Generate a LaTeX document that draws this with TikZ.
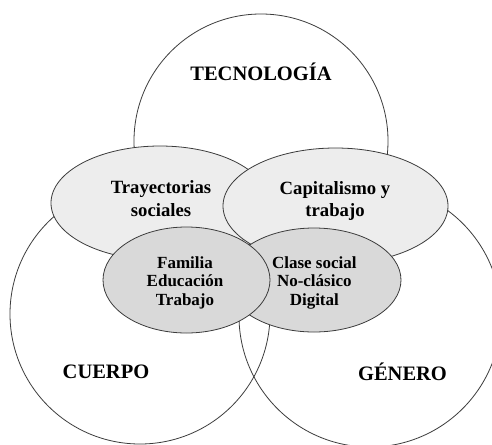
\documentclass[tikz,border=0pt]{standalone}
\usepackage{fontspec}
\setmainfont{Liberation Serif}
\usetikzlibrary{shapes.geometric}
\definecolor{edge}{HTML}{3C3C3C}
\definecolor{midfill}{HTML}{EDEDED}
\definecolor{innerfill}{HTML}{D9D9D9}
\newcommand{\bigfont}{\fontsize{20.5}{24}\selectfont\bfseries}
\newcommand{\midfont}{\fontsize{18.7}{22.8}\selectfont\bfseries}
\newcommand{\smallfont}{\fontsize{17}{18.4}\selectfont\bfseries}
\begin{document}
\begin{tikzpicture}[x=1pt,y=-1pt,
  bigcircle/.style={circle, draw=edge, line width=0.8pt, inner sep=0pt, minimum size=#1},
  midell/.style={ellipse, draw=edge, fill=midfill, line width=0.8pt, inner sep=0pt},
  innerell/.style={ellipse, draw=edge, fill=innerfill, line width=0.8pt, inner sep=0pt},
  biglabel/.style={anchor=base, inner sep=0pt, font=\bigfont},
  midlabel/.style={anchor=base, inner sep=0pt, font=\midfont},
  smalllabel/.style={anchor=base, inner sep=0pt, font=\smallfont}]
\useasboundingbox (0,0) rectangle (492,444);
\clip (0,0) rectangle (492,444);
\fill[white] (0,0) rectangle (492,444);
% big circles
\node[bigcircle=254pt] (tec) at (261,141) {};
\node[bigcircle=260pt] (cue) at (140,314) {};
\node[bigcircle=262pt] (gen) at (370,316) {};
% middle ellipses
\node[midell, minimum width=218pt, minimum height=114pt] (tray) at (160,203) {};
\node[midell, minimum width=225pt, minimum height=116pt] (cap) at (335.5,206) {};
% inner ellipses
\node[innerell, minimum width=174pt, minimum height=104pt] (clase) at (314,280) {};
\node[innerell, minimum width=167pt, minimum height=106pt] (fam) at (186.5,280) {};
% labels
\node[biglabel] (tecT) at (261,81) {TECNOLOGÍA};
\node[biglabel] (cueT) at (106,378) {CUERPO};
\node[biglabel] (genT) at (402.5,380.5) {GÉNERO};
\node[midlabel] (trayT) at (161,193.3) {\begin{tabular}[t]{@{}c@{}}Trayectorias\\ sociales\end{tabular}};
\node[midlabel] (capT) at (335,194) {\begin{tabular}[t]{@{}c@{}}Capitalismo y\\ trabajo\end{tabular}};
\node[smalllabel] (famT) at (185,268.3) {\begin{tabular}[t]{@{}c@{}}Familia\\ Educación\\ Trabajo\end{tabular}};
\node[smalllabel] (claseT) at (314.3,268.3) {\begin{tabular}[t]{@{}c@{}}Clase social\\ No-clásico\\ Digital\end{tabular}};
\end{tikzpicture}
\end{document}
